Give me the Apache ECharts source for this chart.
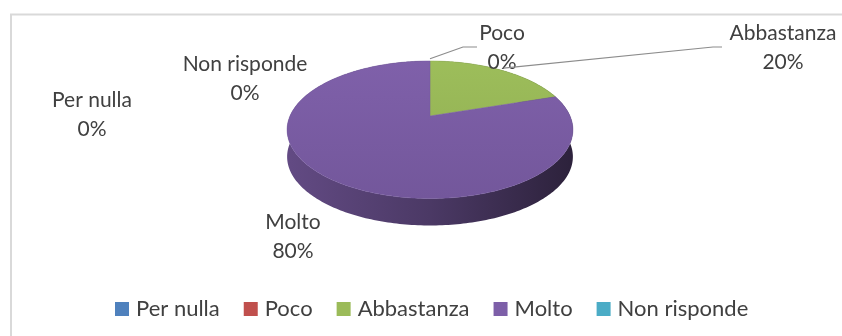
<!DOCTYPE html>
<html>
<head>
<meta charset="utf-8">
<script src="https://cdn.jsdelivr.net/npm/echarts@6/dist/echarts.min.js"></script>
<style>
  html, body { margin: 0; padding: 0; background: #fff; }
  #chart { width: 842px; height: 336px; }
</style>
</head>
<body>
<div id="chart"></div>
<script>
// data
var names = ['Per nulla', 'Poco', 'Abbastanza', 'Molto', 'Non risponde'];
var values = [0, 0, 20, 80, 0];
var colors = ['#4F81BD', '#C0504D', '#9BBB59', '#7D5FA8', '#4BACC6'];

// label placement (text block centre + leader elbow), same order as names
var labelPos = [[92, 115], [502, 48], [783, 48], [293, 237], [245, 79]];
var leaderElbow = [null, [463, 47], [713, 47], null, null];
var leaderEnd = [null, [477, 47], [722, 47], null, null];

// 3d pie look
var cx = 430, cy = 116, rx = 140, ry = 66, depth = 27, persp = 0.2;
var font = '21px Lato';

var total = values.reduce(function (a, b) { return a + b; }, 0);
var starts = [];
var acc = 0;
values.forEach(function (v) { starts.push(acc); acc += v; });

function proj(deg, dy, r) {
    var t = deg * Math.PI / 180;
    r = r == null ? 1 : r;
    var s = 1 / (1 + persp * Math.cos(t));
    return [cx + r * rx * Math.sin(t) * s, cy - r * ry * Math.cos(t) * s + (dy || 0)];
}
function arc(a0, a1, dy) {
    var pts = [];
    var n = Math.max(2, Math.ceil(Math.abs(a1 - a0)));
    for (var i = 0; i <= n; i++) pts.push(proj(a0 + (a1 - a0) * i / n, dy));
    return pts;
}
function shade(hex, k) {
    var c = parseInt(hex.slice(1), 16);
    var r = (c >> 16) & 255, g = (c >> 8) & 255, b = c & 255;
    return 'rgb(' + Math.round(r * k) + ',' + Math.round(g * k) + ',' + Math.round(b * k) + ')';
}
function angles(i, v) {
    return [starts[i] / total * 360, (starts[i] + v) / total * 360];
}

var chart = echarts.init(document.getElementById('chart'));

chart.setOption({
    animation: false,
    graphic: [{
        type: 'rect', silent: true, z: -10,
        shape: {x: 11, y: 14.5, width: 900, height: 400},
        style: {fill: 'none', stroke: '#d9d9d9', lineWidth: 2}
    }],
    legend: {
        left: 115, top: 298, padding: 0,
        itemWidth: 14, itemHeight: 14, itemGap: 24,
        icon: 'rect',
        data: names,
        textStyle: {color: '#404040', fontFamily: 'Lato', fontSize: 22, padding: [0, 0, 0, 2]}
    },
    series: [{
        // only feeds the legend
        type: 'pie', radius: [0, 0], center: [-100, -100],
        label: {show: false}, labelLine: {show: false}, silent: true,
        data: names.map(function (n, i) {
            return {name: n, value: values[i], itemStyle: {color: colors[i]}};
        })
    }, {
        // side walls
        type: 'custom', coordinateSystem: 'none', z: 2, silent: true,
        data: values,
        renderItem: function (params, api) {
            var i = params.dataIndex, v = api.value(0);
            if (!v) return null;
            var a = angles(i, v);
            var pts = arc(a[0], a[1], 0).concat(arc(a[1], a[0], depth));
            return {
                type: 'polygon',
                shape: {points: pts},
                style: {
                    fill: new echarts.graphic.LinearGradient(cx - rx, 0, cx + rx, 0, [
                        {offset: 0, color: shade(colors[i], 0.78)},
                        {offset: 0.5, color: shade(colors[i], 0.6)},
                        {offset: 1, color: shade(colors[i], 0.36)}
                    ], true)
                }
            };
        }
    }, {
        // top faces
        type: 'custom', coordinateSystem: 'none', z: 3, silent: true,
        data: values,
        renderItem: function (params, api) {
            var i = params.dataIndex, v = api.value(0);
            if (!v) return null;
            var a = angles(i, v);
            var pts = [[cx, cy]].concat(arc(a[0], a[1], 0));
            return {
                type: 'polygon',
                shape: {points: pts},
                style: {
                    fill: new echarts.graphic.LinearGradient(0, cy - ry, 0, cy + ry * 1.25, [
                        {offset: 0, color: shade(colors[i], 1.02)},
                        {offset: 1, color: shade(colors[i], 0.92)}
                    ], true),
                    stroke: shade(colors[i], 0.95), lineWidth: 0.5
                }
            };
        }
    }, {
        // data labels + leader lines
        type: 'custom', coordinateSystem: 'none', z: 4, silent: true,
        data: values,
        renderItem: function (params, api) {
            var i = params.dataIndex, v = api.value(0);
            var pct = Math.round(v / total * 100) + '%';
            var kids = [{
                type: 'text',
                style: {
                    text: names[i] + '\n' + pct,
                    x: labelPos[i][0], y: labelPos[i][1],
                    align: 'center', verticalAlign: 'middle',
                    font: font, lineHeight: 29, fill: '#404040'
                }
            }];
            if (leaderElbow[i]) {
                var a = angles(i, v);
                var p0 = proj((a[0] + a[1]) / 2, 0, 1.04);
                kids.push({
                    type: 'polyline',
                    shape: {points: [p0, leaderElbow[i], leaderEnd[i]]},
                    style: {stroke: '#8c8c8c', lineWidth: 1.2, fill: null}
                });
            }
            return {type: 'group', children: kids};
        }
    }]
});
</script>
</body>
</html>
